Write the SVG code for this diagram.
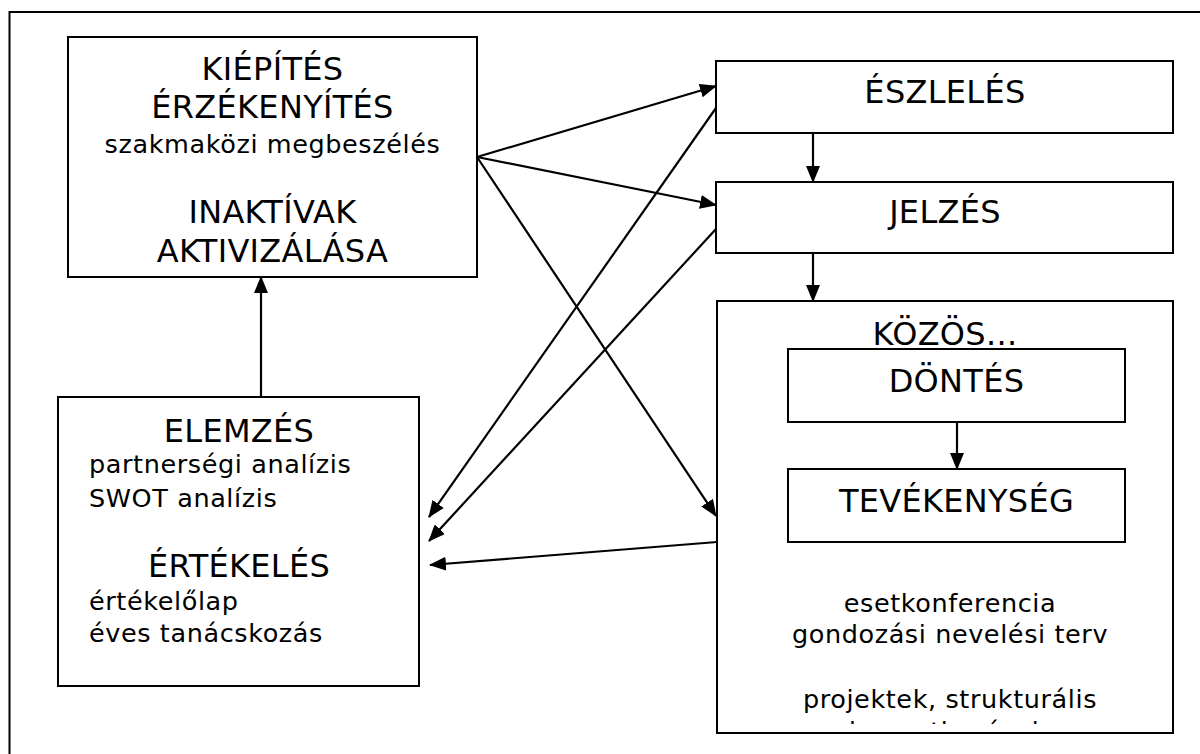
<svg xmlns="http://www.w3.org/2000/svg" width="1200" height="754" viewBox="0 0 1200 754">
<style>
  .box { fill: #ffffff; stroke: #000000; stroke-width: 2; }
  .frame { fill: none; stroke: #000000; stroke-width: 2; }
  .conn { fill: none; stroke: #000000; stroke-width: 2.2; marker-end: url(#arrow); }
  .big { font-family: "DejaVu Sans", Verdana, sans-serif; font-size: 32px; letter-spacing: 0.3px; fill: #000000; }
  .small { font-family: "DejaVu Sans", Verdana, sans-serif; font-size: 25.5px; letter-spacing: 0.6px; fill: #000000; }
  .c { text-anchor: middle; }
</style>
<defs>
  <marker id="arrow" markerUnits="userSpaceOnUse" markerWidth="18" markerHeight="14" refX="16" refY="7" orient="auto">
    <path d="M0,0 L17,7 L0,14 Z" fill="#000000"/>
  </marker>
  <clipPath id="clipKozos">
    <rect x="718" y="302" width="454" height="422"/>
  </clipPath>
</defs>
<rect width="1200" height="754" fill="#ffffff"/>
<rect class="frame" x="9.5" y="12" width="1220" height="800"/>

<g id="kiepites">
  <rect class="box" x="68" y="37" width="409" height="240"/>
  <text class="big c" x="272.5" y="80">KIÉPÍTÉS</text>
  <text class="big c" x="272.5" y="118">ÉRZÉKENYÍTÉS</text>
  <text class="small c" x="272.5" y="153">szakmaközi megbeszélés</text>
  <text class="big c" x="272.5" y="223">INAKTÍVAK</text>
  <text class="big c" x="272.5" y="262">AKTIVIZÁLÁSA</text>
</g>

<g id="elemzes">
  <rect class="box" x="58" y="397" width="361" height="289"/>
  <text class="big c" x="239" y="442">ELEMZÉS</text>
  <text class="small" x="89" y="473">partnerségi analízis</text>
  <text class="small" x="89" y="507">SWOT analízis</text>
  <text class="big c" x="239" y="577">ÉRTÉKELÉS</text>
  <text class="small" x="89" y="610">értékelőlap</text>
  <text class="small" x="89" y="642">éves tanácskozás</text>
</g>

<g id="eszleles">
  <rect class="box" x="716" y="61" width="457" height="72"/>
  <text class="big c" x="945" y="103">ÉSZLELÉS</text>
</g>

<g id="jelzes">
  <rect class="box" x="716" y="182" width="457" height="71"/>
  <text class="big c" x="945" y="223">JELZÉS</text>
</g>

<g id="kozos">
  <rect class="box" x="717" y="301" width="456" height="432"/>
  <text class="big c" x="945" y="345">KÖZÖS...</text>
  <text class="small c" x="950" y="612">esetkonferencia</text>
  <text class="small c" x="950" y="643">gondozási nevelési terv</text>
  <text class="small c" x="950" y="708">projektek, strukturális</text>
  <text class="small c" x="948" y="740" clip-path="url(#clipKozos)">beavatkozások</text>
</g>

<g id="dontes">
  <rect class="box" x="788" y="349" width="337" height="73"/>
  <text class="big c" x="956.5" y="392">DÖNTÉS</text>
</g>

<g id="tevekenyseg">
  <rect class="box" x="788" y="469" width="337" height="73"/>
  <text class="big c" x="956.5" y="512">TEVÉKENYSÉG</text>
</g>

<g id="connectors">
  <line class="conn" x1="477" y1="157" x2="716" y2="86"/>
  <line class="conn" x1="477" y1="157" x2="716" y2="205"/>
  <line class="conn" x1="477" y1="157" x2="716" y2="516"/>
  <line class="conn" x1="716" y1="108" x2="429" y2="517"/>
  <line class="conn" x1="716" y1="229" x2="429" y2="541"/>
  <line class="conn" x1="717" y1="542" x2="430" y2="565"/>
  <line class="conn" x1="813" y1="133" x2="813" y2="182"/>
  <line class="conn" x1="813" y1="253" x2="813" y2="301"/>
  <line class="conn" x1="957" y1="422" x2="957" y2="469"/>
  <line class="conn" x1="261" y1="397" x2="261" y2="277"/>
</g>
</svg>
